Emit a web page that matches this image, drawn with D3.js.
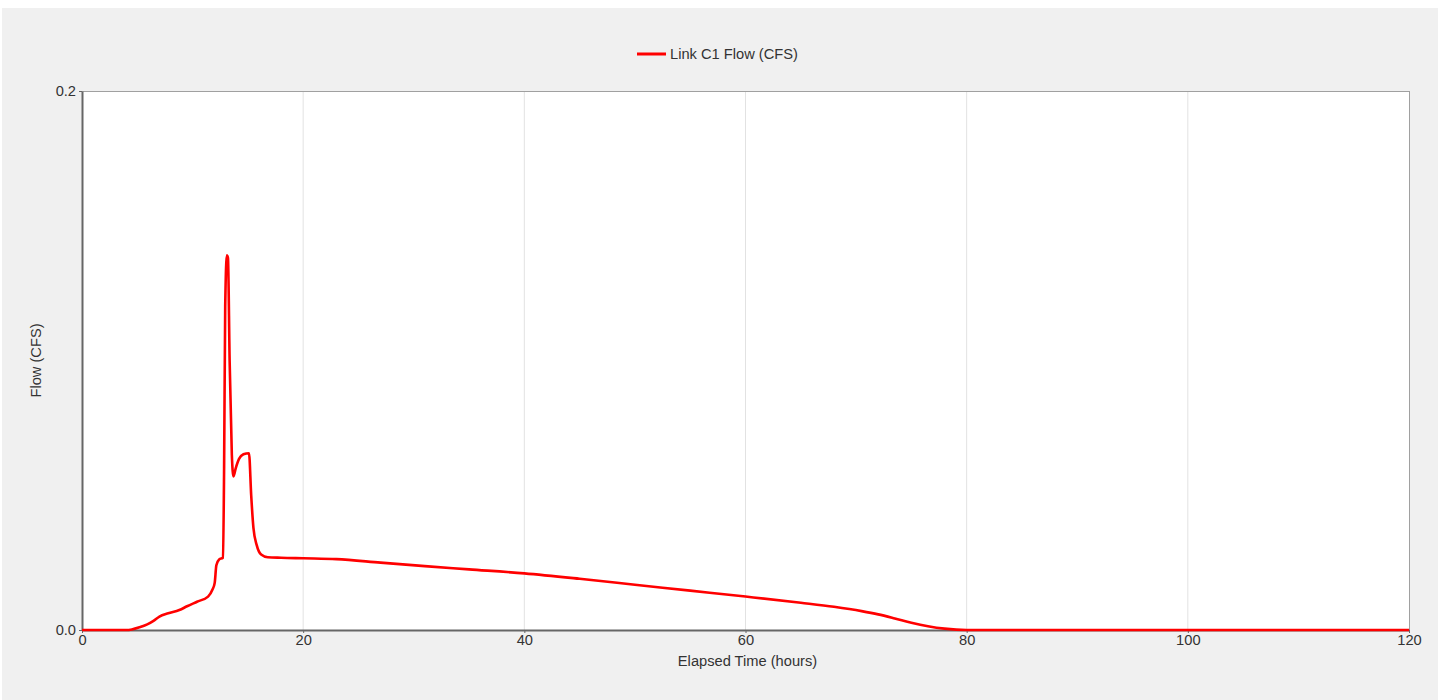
<!DOCTYPE html>
<html>
<head>
<meta charset="utf-8">
<script src="https://cdn.jsdelivr.net/npm/d3@7"></script>
<style>
  html, body { margin: 0; padding: 0; background: #ffffff; }
  svg { display: block; font-family: "Liberation Sans", Arial, sans-serif; }
</style>
</head>
<body>
<svg id="chart" width="1445" height="700"></svg>
<script>
// ---- data ----
const seriesName = "Link C1 Flow (CFS)";
const hours = [0, 4, 4.5, 5.2, 5.9, 6.5, 7.0, 7.8, 8.8, 9.5, 10.4, 11.4, 11.8, 12.0, 12.15, 12.4, 12.75, 12.85, 12.95, 13.1, 13.2, 13.35, 13.55, 13.7, 13.9, 14.2, 14.6, 15.1, 15.3, 15.5, 15.8, 16.2, 16.8, 18, 20, 23, 27, 31, 35, 40, 45, 50, 55, 60, 65, 68, 70.5, 72, 73.5, 75, 76.5, 78, 80, 120];
const flow = [0, 0, 0.0002, 0.001, 0.0021, 0.0035, 0.005, 0.0062, 0.0074, 0.0088, 0.0105, 0.0124, 0.015, 0.0175, 0.024, 0.0262, 0.0268, 0.06, 0.12, 0.139, 0.138, 0.10, 0.065, 0.057, 0.060, 0.0635, 0.0652, 0.0656, 0.05, 0.038, 0.0315, 0.028, 0.027, 0.0268, 0.0266, 0.0263, 0.0250, 0.0237, 0.0225, 0.0210, 0.0190, 0.0168, 0.0146, 0.0124, 0.0101, 0.0086, 0.0070, 0.0058, 0.0043, 0.0027, 0.0014, 0.0005, 0, 0];
const xTicks = [0, 20, 40, 60, 80, 100, 120];
const yTicks = [0.0, 0.2];
const xLabel = "Elapsed Time (hours)";
const yLabel = "Flow (CFS)";

// ---- layout ----
const svg = d3.select("#chart");
const plot = { left: 82, right: 1409, top: 91, bottom: 630 };
const FS = 14.67;

svg.append("rect").attr("x", 2).attr("y", 8).attr("width", 1436).attr("height", 692).attr("fill", "#f0f0f0");

const x = d3.scaleLinear().domain([0, 120]).range([plot.left, plot.right]);
const y = d3.scaleLinear().domain([0, 0.2]).range([plot.bottom, plot.top]);

svg.append("rect").attr("x", plot.left).attr("y", plot.top)
  .attr("width", plot.right - plot.left).attr("height", plot.bottom - plot.top)
  .attr("fill", "#ffffff");

// gridlines
svg.append("g").selectAll("line").data(xTicks.filter(t => t > 0 && t < 120)).join("line")
  .attr("x1", d => x(d)).attr("x2", d => x(d))
  .attr("y1", plot.top).attr("y2", plot.bottom)
  .attr("stroke", "#e2e2e2").attr("stroke-width", 1);

// top/right border
svg.append("line").attr("x1", plot.left).attr("x2", plot.right).attr("y1", plot.top + 0.5).attr("y2", plot.top + 0.5)
  .attr("stroke", "#a0a0a0").attr("stroke-width", 1);
svg.append("line").attr("x1", plot.right + 0.5).attr("x2", plot.right + 0.5).attr("y1", plot.top).attr("y2", plot.bottom)
  .attr("stroke", "#a0a0a0").attr("stroke-width", 1);

// axes
const xAxis = d3.axisBottom(x).tickValues(xTicks).tickFormat(d3.format("d")).tickSize(3).tickSizeOuter(0);
const gx = svg.append("g").attr("transform", `translate(0,${plot.bottom})`).call(xAxis);
gx.select(".domain").attr("stroke", "#666").attr("stroke-width", 2);
gx.selectAll(".tick line").attr("stroke", "#666");
gx.selectAll(".tick text").attr("fill", "#333").attr("font-size", FS).attr("dy", "0.6em")
  .attr("font-family", "Liberation Sans, Arial, sans-serif");

const yAxis = d3.axisLeft(y).tickValues(yTicks).tickFormat(d3.format(".1f")).tickSize(3).tickSizeOuter(0);
const gy = svg.append("g").attr("transform", `translate(${plot.left},0)`).call(yAxis);
gy.select(".domain").attr("stroke", "#666").attr("stroke-width", 2);
gy.selectAll(".tick line").attr("stroke", "#666");
gy.selectAll(".tick text").attr("fill", "#333").attr("font-size", FS)
  .attr("font-family", "Liberation Sans, Arial, sans-serif");

// axis labels
svg.append("text").attr("x", (plot.left + plot.right) / 2 + 2).attr("y", 666)
  .attr("text-anchor", "middle").attr("font-size", FS).attr("fill", "#333").text(xLabel);
svg.append("text").attr("transform", `translate(41,${(plot.top + plot.bottom) / 2}) rotate(-90)`)
  .attr("text-anchor", "middle").attr("font-size", FS).attr("fill", "#333").text(yLabel);

// line
const data = hours.map((h, i) => ({ h, v: flow[i] }));
const line = d3.line().x(d => x(d.h)).y(d => y(d.v)).curve(d3.curveMonotoneX);
svg.append("path").datum(data).attr("d", line)
  .attr("fill", "none").attr("stroke", "#ff0000").attr("stroke-width", 2.6)
  .attr("stroke-linejoin", "round");

// legend
const lg = svg.append("g");
lg.append("line").attr("x1", 637).attr("x2", 666).attr("y1", 54).attr("y2", 54)
  .attr("stroke", "#ff0000").attr("stroke-width", 3);
lg.append("text").attr("x", 670).attr("y", 59).attr("font-size", FS).attr("fill", "#333").text(seriesName);
</script>
</body>
</html>
